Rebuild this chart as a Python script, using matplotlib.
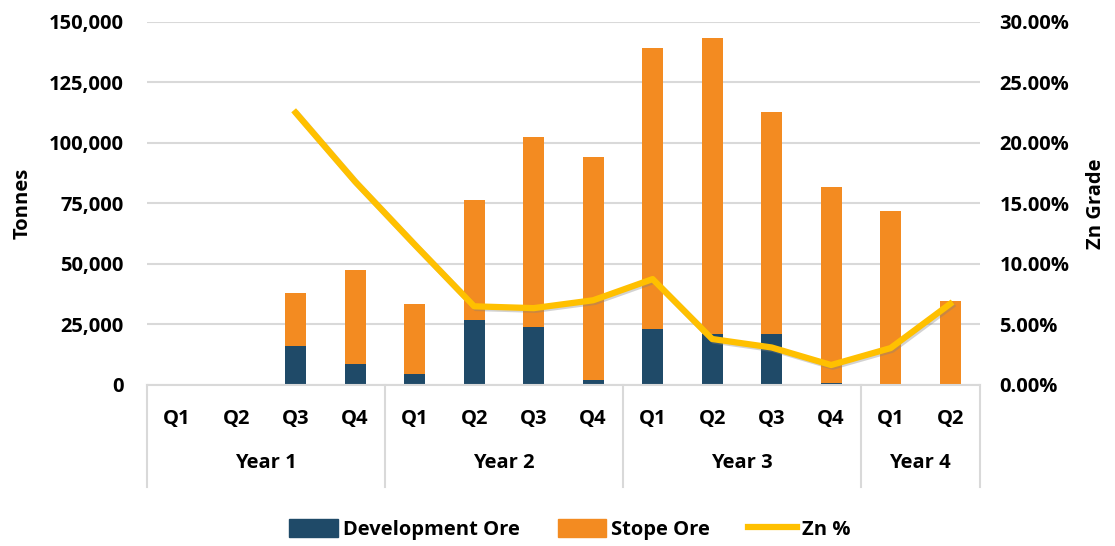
import matplotlib
matplotlib.use("Agg")
import matplotlib.pyplot as plt
import matplotlib.patheffects as pe
from matplotlib.ticker import FuncFormatter, MultipleLocator
from matplotlib.lines import Line2D
from matplotlib.patches import Patch

plt.rcParams["font.family"] = ["Open Sans", "DejaVu Sans"]
plt.rcParams["font.weight"] = "bold"

# data
years = ["Year 1", "Year 2", "Year 3", "Year 4"]
quarters = ["Q1", "Q2", "Q3", "Q4", "Q1", "Q2", "Q3", "Q4",
            "Q1", "Q2", "Q3", "Q4", "Q1", "Q2"]
quarters_per_year = [4, 4, 4, 2]
dev_ore = [0, 0, 16100, 8700, 4500, 26900, 24000, 2000,
           23100, 21000, 21000, 800, 0, 0]
total_ore = [0, 0, 38000, 47500, 33500, 76400, 102500, 94200,
             139200, 143400, 112800, 81800, 71900, 34700]
stope_ore = [t - d for t, d in zip(total_ore, dev_ore)]
zn_pct = [None, None, 22.5, 16.8, 11.6, 6.5, 6.35, 7.0,
          8.75, 3.8, 3.1, 1.65, 3.05, 6.7]

DEV = "#1F4A68"
STOPE = "#F38B21"
ZN = "#FFC000"
FS = 14.5

fig = plt.figure(figsize=(11.15, 5.46), dpi=100)
ax = fig.add_axes([0.1318, 0.2949, 0.747, 0.665])
x = list(range(len(quarters)))

shadow = [pe.SimpleLineShadow(offset=(1.2, -1.2), shadow_color="#808080", alpha=0.35), pe.Normal()]

ax.bar(x, dev_ore, width=0.35, color=DEV, zorder=2)
ax.bar(x, stope_ore, width=0.35, bottom=dev_ore, color=STOPE, zorder=2)

ax.set_ylim(0, 150000)
ax.set_xlim(-0.5, len(quarters) - 0.5)
ax.yaxis.set_major_locator(MultipleLocator(25000))
ax.yaxis.set_major_formatter(FuncFormatter(lambda v, p: f"{int(v):,}"))
ax.grid(axis="y", color="#D9D9D9", linewidth=1.5, zorder=0)
ax.set_axisbelow(True)
for s in ["top", "right", "left"]:
    ax.spines[s].set_visible(False)
ax.spines["bottom"].set_color("#D9D9D9")
ax.spines["bottom"].set_linewidth(1.5)
ax.tick_params(axis="y", length=0, labelsize=FS, pad=17)
ax.tick_params(axis="x", length=0, labelsize=FS, pad=17)
ax.set_xticks(x)
ax.set_xticklabels(quarters)
ax.set_ylabel("Tonnes", fontsize=FS, fontweight="bold", labelpad=11)

ax2 = ax.twinx()
zx = [i for i, v in zip(x, zn_pct) if v is not None]
zy = [v for v in zn_pct if v is not None]
ax2.plot(zx, zy, color=ZN, linewidth=4.5, zorder=3, path_effects=shadow)
ax2.set_ylim(0, 30)
ax2.yaxis.set_major_locator(MultipleLocator(5))
ax2.yaxis.set_major_formatter(FuncFormatter(lambda v, p: f"{v:.2f}%"))
ax2.tick_params(axis="y", length=0, labelsize=FS, pad=14)
for s in ax2.spines.values():
    s.set_visible(False)
ax2.set_ylabel("Zn Grade", fontsize=FS, fontweight="bold", labelpad=12)

# year grouping row + separators
trans = ax.get_xaxis_transform()
start = 0
bounds = [-0.5]
for name, n in zip(years, quarters_per_year):
    mid = start + (n - 1) / 2
    ax.text(mid, -0.215, name, transform=trans, ha="center", va="center",
            fontsize=FS, fontweight="bold")
    start += n
    bounds.append(start - 0.5)
for b in bounds:
    ax.add_line(Line2D([b, b], [0, -0.28], transform=trans, color="#D9D9D9",
                       linewidth=1.5, clip_on=False))

handles = [Patch(color=DEV, label="Development Ore"),
           Patch(color=STOPE, label="Stope Ore"),
           Line2D([], [], color=ZN, linewidth=4.5, label="Zn %")]
fig.legend(handles=handles, loc="center", bbox_to_anchor=(0.511, 0.03), ncol=3,
           frameon=False, fontsize=FS, handlelength=2.4, handleheight=1.0,
           handletextpad=0.25, columnspacing=1.9)

fig.savefig("out.png", dpi=100)
